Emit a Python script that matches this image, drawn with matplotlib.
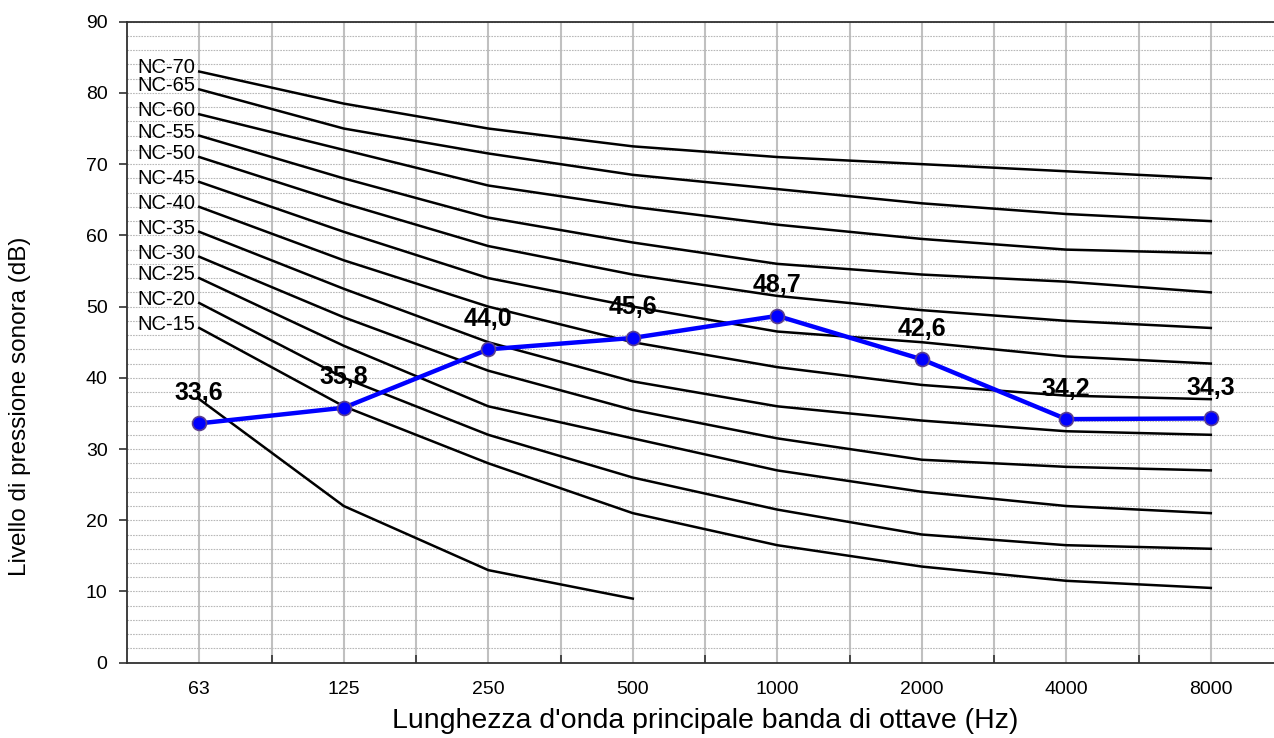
import matplotlib
matplotlib.use('Agg')
import matplotlib.pyplot as plt
import numpy as np

plt.rcParams['font.family'] = ['Liberation Sans', 'DejaVu Sans']

################################################################################
# data
################################################################################

freqs = ['63', '125', '250', '500', '1000', '2000', '4000', '8000']

nc_names = ['NC-70', 'NC-65', 'NC-60', 'NC-55', 'NC-50', 'NC-45',
            'NC-40', 'NC-35', 'NC-30', 'NC-25', 'NC-20', 'NC-15']

nc_70 = [83.0, 78.5, 75.0, 72.5, 71.0, 70.0, 69.0, 68.0]
nc_65 = [80.5, 75.0, 71.5, 68.5, 66.5, 64.5, 63.0, 62.0]
nc_60 = [77.0, 72.0, 67.0, 64.0, 61.5, 59.5, 58.0, 57.5]
nc_55 = [74.0, 68.0, 62.5, 59.0, 56.0, 54.5, 53.5, 52.0]
nc_50 = [71.0, 64.5, 58.5, 54.5, 51.5, 49.5, 48.0, 47.0]
nc_45 = [67.5, 60.5, 54.0, 50.0, 46.5, 45.0, 43.0, 42.0]
nc_40 = [64.0, 56.5, 50.0, 45.0, 41.5, 39.0, 37.5, 37.0]
nc_35 = [60.5, 52.5, 45.0, 39.5, 36.0, 34.0, 32.5, 32.0]
nc_30 = [57.0, 48.5, 41.0, 35.5, 31.5, 28.5, 27.5, 27.0]
nc_25 = [54.0, 44.5, 36.0, 31.5, 27.0, 24.0, 22.0, 21.0]
nc_20 = [50.5, 40.0, 32.0, 26.0, 21.5, 18.0, 16.5, 16.0]
nc_15 = [47.0, 36.0, 28.0, 21.0, 16.5, 13.5, 11.5, 10.5]
nc_curves = [nc_70, nc_65, nc_60, nc_55, nc_50, nc_45,
             nc_40, nc_35, nc_30, nc_25, nc_20, nc_15]

# extra unlabelled curve, only up to 500 Hz
low_curve = [37.0, 22.0, 13.0, 9.0]

measured = [33.6, 35.8, 44.0, 45.6, 48.7, 42.6, 34.2, 34.3]

################################################################################
# figure
################################################################################

fig = plt.figure(figsize=[12.74, 7.38], dpi=100)
ax = fig.add_axes([0.0997, 0.102, 0.9074, 0.8686])

x = np.arange(len(freqs))

for name, curve in zip(nc_names, nc_curves):
    ax.plot(x, curve, color='black', lw=1.8, zorder=3)
    ax.text(-0.025, curve[0] + 0.5, name, ha='right', va='center',
            fontsize=14.5, zorder=5)

ax.plot(x[:len(low_curve)], low_curve, color='black', lw=1.8, zorder=3)

ax.plot(x, measured, color='#0000ff', lw=3.2, marker='o', markersize=10,
        markerfacecolor='#0000ff', markeredgecolor='#5a3f8f',
        markeredgewidth=1.2, zorder=4)

for xi, v in zip(x, measured):
    ax.annotate(('%.1f' % v).replace('.', ','), (xi, v), xytext=(0, 22),
                textcoords='offset points', ha='center', va='center',
                fontsize=18, fontweight='bold', zorder=6)

# axes
ax.set_xlim(-0.5, 7.5)
ax.set_ylim(0, 90)
ax.set_xticks(x)
ax.set_xticklabels(freqs)
ax.set_xticks(x + 0.5, minor=True)
ax.set_yticks(np.arange(0, 91, 10))
ax.set_yticks(np.arange(0, 91, 2), minor=True)

ax.tick_params(axis='x', which='major', length=0, pad=13, labelsize=14)
ax.tick_params(axis='x', which='minor', length=6, direction='in',
               color='#303030', width=1.2)
ax.tick_params(axis='y', which='major', length=6, direction='out',
               color='#303030', width=1.2, labelsize=14, pad=8)
ax.tick_params(axis='y', which='minor', length=0)

ax.grid(axis='x', which='both', color='#c0c0c0', lw=1.5, zorder=1)
ax.grid(axis='y', which='both', color='#b8b8b8', lw=0.8,
        linestyle=(0, (1.5, 1.0)), zorder=1)
ax.set_axisbelow(True)

for side in ['left', 'bottom', 'top']:
    ax.spines[side].set_color('#303030')
    ax.spines[side].set_linewidth(1.3)
ax.spines['right'].set_visible(False)

ax.set_xlabel("Lunghezza d'onda principale banda di ottave (Hz)",
              fontsize=20.5, labelpad=7)
ax.set_ylabel('Livello di pressione sonora (dB)', fontsize=17.5)
ax.yaxis.set_label_coords(-0.083, 0.40)

fig.savefig('out.png', dpi=100)
